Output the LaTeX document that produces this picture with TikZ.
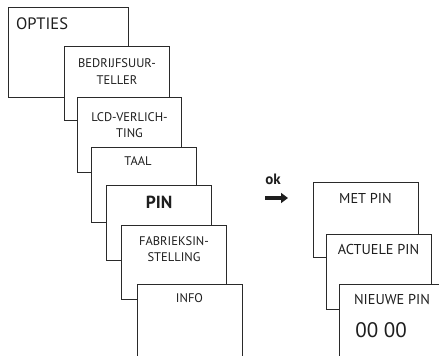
\documentclass[tikz,border=0pt]{standalone}
\usepackage{fontspec}
\setmainfont{PT Sans}
\usetikzlibrary{arrows.meta}
\definecolor{ln}{HTML}{2A2A2A}
\definecolor{tx}{HTML}{1E1E1E}
\tikzset{
  box/.style={draw=ln, fill=white, line width=1pt, anchor=north west, inner sep=0pt, outer sep=0pt},
  small/.style={text=tx, font=\fontsize{12.5}{16.5}\selectfont, align=center, inner sep=0pt},
  mid/.style={text=tx, font=\fontsize{14.3}{17}\selectfont, inner sep=0pt},
}
\begin{document}
\begin{tikzpicture}[x=1pt,y=-1pt]
\useasboundingbox (0,0) rectangle (439,356);
\clip (0,0) rectangle (439,356);
% left stack
\node[box, minimum width=120pt, minimum height=90pt] (b1) at (8,7) {};
\node[mid, anchor=west, font=\fontsize{16.5}{18}\selectfont] (t1) at (16,24) {OPTIES};
\node[box, minimum width=105pt, minimum height=74pt] (b2) at (64,46) {};
\node[small] (t2) at (117,71.5) {BEDRIJFSUUR-\\TELLER};
\node[box, minimum width=104pt, minimum height=75pt] (b3) at (77,97) {};
\node[small] (t3) at (129.5,125) {LCD-VERLICH-\\TING};
\node[box, minimum width=105pt, minimum height=75pt] (b4) at (91,147) {};
\node[small] (t4) at (138,161) {TAAL};
\node[box, minimum width=105pt, minimum height=75pt] (b5) at (106,185) {};
\node[mid, font=\bfseries\fontsize{17.5}{20}\selectfont] (t5) at (159,202) {PIN};
\node[box, minimum width=105pt, minimum height=74pt] (b6) at (121,225) {};
\node[small] (t6) at (174,249) {FABRIEKSIN-\\STELLING};
\node[box, minimum width=105pt, minimum height=90pt] (b7) at (137,284) {};
\node[small] (t7) at (189.5,298) {INFO};
% arrow
\node[mid, font=\bfseries\fontsize{15}{17}\selectfont] (ok) at (273,179) {ok};
\coordinate (as) at (265,198);
\coordinate (ae) at (288,198);
\draw[draw=tx, line width=4pt, -{Triangle[length=7pt,width=10pt]}] (as) -- (ae);
% right stack
\node[box, minimum width=105pt, minimum height=75pt] (r1) at (313,182) {};
\node[mid] (s1) at (365.5,198) {MET PIN};
\node[box, minimum width=105pt, minimum height=75pt] (r2) at (326,234) {};
\node[mid] (s2) at (378.5,249) {ACTUELE PIN};
\node[box, minimum width=105pt, minimum height=90pt] (r3) at (339,284) {};
\node[mid] (s3) at (392,299) {NIEUWE PIN};
\node[mid, font=\fontsize{21}{24}\selectfont] (s4) at (381,330) {00 00};
\end{tikzpicture}
\end{document}
